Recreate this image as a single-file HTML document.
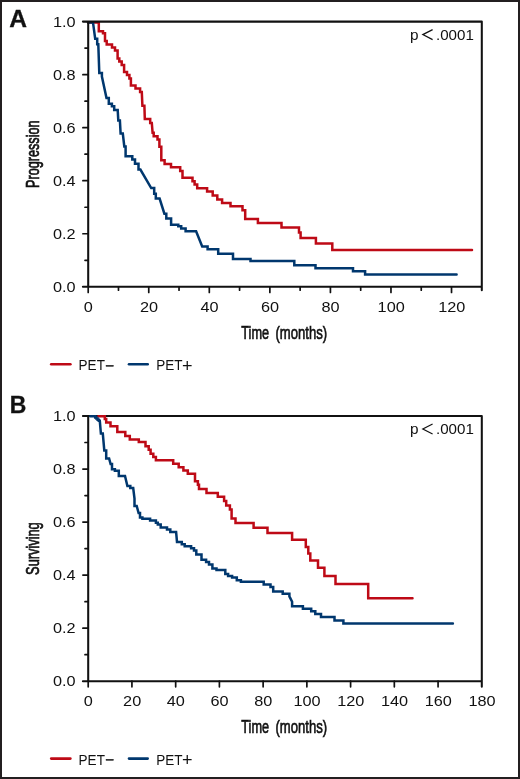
<!DOCTYPE html>
<html><head><meta charset="utf-8"><style>
html,body{margin:0;padding:0;background:#fff;}
svg{display:block;will-change:transform;}
text{font-family:"Liberation Sans",sans-serif;}
</style></head><body>
<svg width="520" height="779" viewBox="0 0 520 779">
<rect x="0" y="0" width="520" height="779" fill="#fff"/>
<path d="M88,22.4 H98.8 V31.2 H103 V33.3 H105 V41 H106.7 V44.6 H112 V47.6 H115 V50.4 H117.6 V58.5 H119.3 V61.5 H121.7 V64.9 H124.1 V72.1 H127 V75 H129.4 V78.4 H130.9 V85.6 H135.5 V88.4 H140.1 V92.1 H141.8 L142.4,105.7 H144.4 L144.8,119 H150.2 V122.9 H151.8 L152.6,132.8 H153.7 V136.2 H157.5 V139.5 H159.4 V146.7 H161.3 V160.3 H164.6 V164.1 H171 V167.3 H180.2 V171 H182.5 V177.7 H192.5 V181.2 H194.6 V184.6 H197.2 V188.3 H207.1 V191.6 H212.7 V195.5 H217.3 V199.5 H222.1 V202.9 H230.5 V206.3 H242.5 V210.2 H245.2 V219 H257.9 V223.1 H281.5 V227.6 H299 V232.6 H300.6 V238 H315.9 V243.4 H332.3 V250 H472" fill="none" stroke="#be0a16" stroke-width="2.5" stroke-linejoin="miter" stroke-linecap="round"/>
<path d="M88,22.4 H93 L95.2,38.8 H97.2 V44.2 H98.3 L99.3,73.1 H101.9 V76.5 L106.5,98.1 H108.8 V103.8 H111.9 V106.2 H114.2 V110 H117.7 L118.3,120.4 H119.9 L120.6,133.5 H122.8 L124.3,146.5 H125.6 V156.2 H132.3 V159.6 H135 V163.8 H138.5 V169.6 H140.4 L151.2,188.1 H154.2 V193.8 H155.8 V198.5 H159.6 L164.4,213.7 H166.3 V218.5 H171.1 V224.7 H178.3 V226.2 H181.2 V228.6 H185.6 V231.2 H196.1 L202.2,246.4 H207.6 V249.2 H218.2 V253.8 H233 V259 H250.5 V261 H294.3 V265.3 H315.5 V268.3 H353 V271.2 H365.1 V274.6 H456.6" fill="none" stroke="#00376e" stroke-width="2.5" stroke-linejoin="miter" stroke-linecap="round"/>
<path d="M82.9,21.6 H481.8 M481.8,21.6 V290.2 M88.2,21.6 V286.8 M82.9,286.8 H481.8" fill="none" stroke="#111" stroke-width="2.05" stroke-linecap="round"/>
<path d="M85.0,260.28 H88.2 M82.9,233.76 H88.2 M85.0,207.24 H88.2 M82.9,180.72 H88.2 M85.0,154.20 H88.2 M82.9,127.68 H88.2 M85.0,101.16 H88.2 M82.9,74.64 H88.2 M85.0,48.12 H88.2 M88.20,286.8 V292.40000000000003 M148.75,286.8 V292.40000000000003 M209.31,286.8 V292.40000000000003 M269.86,286.8 V292.40000000000003 M330.42,286.8 V292.40000000000003 M390.97,286.8 V292.40000000000003 M451.52,286.8 V292.40000000000003 M118.48,286.8 V290.2 M179.03,286.8 V290.2 M239.58,286.8 V290.2 M300.14,286.8 V290.2 M360.69,286.8 V290.2 M421.25,286.8 V290.2" fill="none" stroke="#111" stroke-width="1.7" stroke-linecap="round"/>
<g font-size="15.5" fill="#111">
<text transform="translate(75.60,291.80) scale(1.05,1)" text-anchor="end">0.0</text>
<text transform="translate(75.60,238.76) scale(1.05,1)" text-anchor="end">0.2</text>
<text transform="translate(75.60,185.72) scale(1.05,1)" text-anchor="end">0.4</text>
<text transform="translate(75.60,132.68) scale(1.05,1)" text-anchor="end">0.6</text>
<text transform="translate(75.60,79.64) scale(1.05,1)" text-anchor="end">0.8</text>
<text transform="translate(75.60,26.60) scale(1.05,1)" text-anchor="end">1.0</text>
<text transform="translate(88.40,311.70) scale(1.05,1)" text-anchor="middle">0</text>
<text transform="translate(148.95,311.70) scale(1.05,1)" text-anchor="middle">20</text>
<text transform="translate(209.51,311.70) scale(1.05,1)" text-anchor="middle">40</text>
<text transform="translate(270.06,311.70) scale(1.05,1)" text-anchor="middle">60</text>
<text transform="translate(330.62,311.70) scale(1.05,1)" text-anchor="middle">80</text>
<text transform="translate(391.17,311.70) scale(1.05,1)" text-anchor="middle">100</text>
<text transform="translate(451.72,311.70) scale(1.05,1)" text-anchor="middle">120</text>
</g>
<g fill="#111" font-size="14.2"><text transform="translate(409.9,39.7) scale(1.08,1)">p</text><path d="M432.6,29.6 L422.8,34.6 L432.6,39.6" fill="none" stroke="#111" stroke-width="1.2"/><text transform="translate(436.0,39.7) scale(1.065,1)">.0001</text></g>
<text transform="translate(38.9,154.20) rotate(-90) scale(0.666,1)" text-anchor="middle" font-size="19.0" fill="#111" stroke="#111" stroke-width="0.7">Progression</text>
<g font-size="19.0" fill="#111" stroke="#111" stroke-width="0.7"><text transform="translate(241.3,338.5) scale(0.67,1)">Time</text><text transform="translate(275.5,338.5) scale(0.69,1)">(months)</text></g>
<text transform="translate(9.3,27.45) scale(1.06,1)" font-size="23.2" font-weight="bold" fill="#111" stroke="#111" stroke-width="0.3">A</text>
<path d="M51.2,364.2 H70.4" stroke="#be0a16" stroke-width="2.6" stroke-linecap="round"/>
<path d="M129.0,364.2 H147.7" stroke="#00376e" stroke-width="2.6" stroke-linecap="round"/>
<g font-size="15.2" fill="#111"><text transform="translate(78.6,370.2) scale(0.89,1)">PET</text><text transform="translate(105.3,370.5)" stroke="#111" stroke-width="0.35">−</text><text transform="translate(156.2,370.2) scale(0.89,1)">PET</text><text transform="translate(182.1,371.6)" font-size="18">+</text></g>
<path d="M82.9,416.0 H481.8 M481.8,416.0 V686.8000000000001 M88.2,416.0 V681.2 M82.9,681.2 H481.8" fill="none" stroke="#111" stroke-width="2.05" stroke-linecap="round"/>
<path d="M85.0,654.68 H88.2 M82.9,628.16 H88.2 M85.0,601.64 H88.2 M82.9,575.12 H88.2 M85.0,548.60 H88.2 M82.9,522.08 H88.2 M85.0,495.56 H88.2 M82.9,469.04 H88.2 M85.0,442.52 H88.2 M88.20,681.2 V686.8000000000001 M131.93,681.2 V686.8000000000001 M175.67,681.2 V686.8000000000001 M219.40,681.2 V686.8000000000001 M263.13,681.2 V686.8000000000001 M306.87,681.2 V686.8000000000001 M350.60,681.2 V686.8000000000001 M394.33,681.2 V686.8000000000001 M438.07,681.2 V686.8000000000001" fill="none" stroke="#111" stroke-width="1.7" stroke-linecap="round"/>
<path d="M98.4,416.3 H104.8 V419.1 H106.2 V422.5 H110.5 V426.3 H117.3 V432.1 H125.3 V435.9 H129.8 V439.6 H138.8 V442.1 H145.5 V446.2 H148.7 V449.8 H150.6 V453.7 H153.3 V457.1 H155.9 V460.2 H173.2 V463.7 H178.7 V467.3 H183.4 V470.6 H187.8 V473.8 H195 V481.3 H197.9 V484.8 H199 V489.1 H206.5 V492.9 H217.8 V496.7 H224.1 V501 H226.2 V505.4 H229.9 V509.4 H231.6 V518.4 H235.5 V523.1 H253.6 V527.7 H267.5 V533 H292.1 V539.8 H305.8 V546.9 H308.3 V553.6 H310.3 V560.6 H318 V567.8 H324.4 V575.9 H335.5 V583.9 H368.2 V598.2 H412.5" fill="none" stroke="#be0a16" stroke-width="2.5" stroke-linejoin="miter" stroke-linecap="round"/>
<path d="M90.3,416.3 H95.2 V417.4 H96.4 V418.5 H97.6 V419.7 H98.8 V420.8 H99.8 L100.9,433.6 H102.8 L104.3,450.4 H106.2 V458.5 H109.1 L110.6,464 H112 V469.2 H114.9 V470.7 H118.8 V476 H125 L127.4,486 H130.3 V488 H133.2 L134.5,498.7 V505.9 H136.7 L138.6,513.1 H140 V517.4 H142.4 V518.7 H150.1 V520.6 H155.9 V522.7 H157.8 V524.6 H160.7 V527.5 H167 V529.4 H170.3 V531.9 H176.1 L177,541.9 H181.8 V544.2 H184.7 V546.3 H191.1 V548.3 H194 V550.6 H196.3 V554.4 H201.5 V559.8 H206.1 V562.1 H209 V564.4 H212.4 V568.5 H216.5 V570.1 H225.3 V574.1 H228.1 V575.9 H232.1 V577.5 H236.8 V580.2 H240.9 V581.8 H263.7 V584.5 H270.5 V586.9 H273.2 V591.5 H282.7 V593.7 H289.4 V596.4 L292.1,601.8 V606.3 H302.9 V608.8 H311.2 V611.2 H315.3 V613.9 H321 V616.9 H334.5 V620.5 H343.4 V623.4 H452.9" fill="none" stroke="#00376e" stroke-width="2.5" stroke-linejoin="miter" stroke-linecap="round"/>
<g font-size="15.5" fill="#111">
<text transform="translate(75.60,686.20) scale(1.05,1)" text-anchor="end">0.0</text>
<text transform="translate(75.60,633.16) scale(1.05,1)" text-anchor="end">0.2</text>
<text transform="translate(75.60,580.12) scale(1.05,1)" text-anchor="end">0.4</text>
<text transform="translate(75.60,527.08) scale(1.05,1)" text-anchor="end">0.6</text>
<text transform="translate(75.60,474.04) scale(1.05,1)" text-anchor="end">0.8</text>
<text transform="translate(75.60,421.00) scale(1.05,1)" text-anchor="end">1.0</text>
<text transform="translate(88.40,706.10) scale(1.05,1)" text-anchor="middle">0</text>
<text transform="translate(132.13,706.10) scale(1.05,1)" text-anchor="middle">20</text>
<text transform="translate(175.87,706.10) scale(1.05,1)" text-anchor="middle">40</text>
<text transform="translate(219.60,706.10) scale(1.05,1)" text-anchor="middle">60</text>
<text transform="translate(263.33,706.10) scale(1.05,1)" text-anchor="middle">80</text>
<text transform="translate(307.07,706.10) scale(1.05,1)" text-anchor="middle">100</text>
<text transform="translate(350.80,706.10) scale(1.05,1)" text-anchor="middle">120</text>
<text transform="translate(394.53,706.10) scale(1.05,1)" text-anchor="middle">140</text>
<text transform="translate(438.27,706.10) scale(1.05,1)" text-anchor="middle">160</text>
<text transform="translate(482.00,706.10) scale(1.05,1)" text-anchor="middle">180</text>
</g>
<g fill="#111" font-size="14.2"><text transform="translate(409.9,434.09999999999997) scale(1.08,1)">p</text><path d="M432.6,424.0 L422.8,429.0 L432.6,434.0" fill="none" stroke="#111" stroke-width="1.2"/><text transform="translate(436.0,434.09999999999997) scale(1.065,1)">.0001</text></g>
<text transform="translate(38.9,548.60) rotate(-90) scale(0.673,1)" text-anchor="middle" font-size="19.0" fill="#111" stroke="#111" stroke-width="0.7">Surviving</text>
<g font-size="19.0" fill="#111" stroke="#111" stroke-width="0.7"><text transform="translate(241.3,732.9) scale(0.67,1)">Time</text><text transform="translate(275.5,732.9) scale(0.69,1)">(months)</text></g>
<text transform="translate(9.7,412.5) scale(0.99,1)" font-size="23.2" font-weight="bold" fill="#111" stroke="#111" stroke-width="0.3">B</text>
<path d="M51.2,758.5999999999999 H70.4" stroke="#be0a16" stroke-width="2.6" stroke-linecap="round"/>
<path d="M129.0,758.5999999999999 H147.7" stroke="#00376e" stroke-width="2.6" stroke-linecap="round"/>
<g font-size="15.2" fill="#111"><text transform="translate(78.6,764.5999999999999) scale(0.89,1)">PET</text><text transform="translate(105.3,764.9)" stroke="#111" stroke-width="0.35">−</text><text transform="translate(156.2,764.5999999999999) scale(0.89,1)">PET</text><text transform="translate(182.1,766.0)" font-size="18">+</text></g>
<rect x="1" y="1" width="518" height="777" fill="none" stroke="#231f20" stroke-width="2"/>
</svg>
</body></html>
